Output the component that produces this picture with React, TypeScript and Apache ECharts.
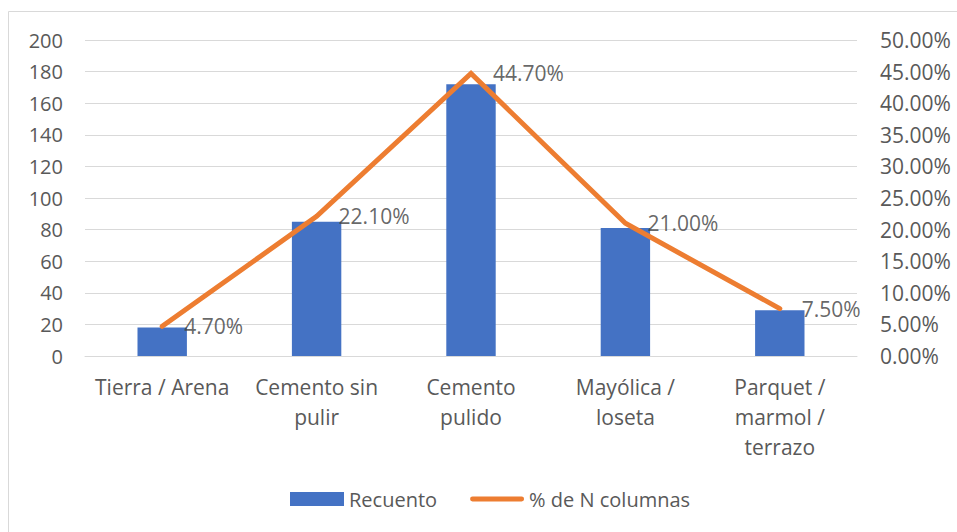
import React, { useEffect, useRef } from "react";
import * as echarts from "echarts";

const categories = [
  "Tierra / Arena",
  "Cemento sin\npulir",
  "Cemento\npulido",
  "Mayólica /\nloseta",
  "Parquet /\nmarmol /\nterrazo",
];
const recuento = [18, 85, 172, 81, 29];
const porcentaje = [4.7, 22.1, 44.7, 21.0, 7.5];
const countTicks = { min: 0, max: 200, interval: 20 };
const pctTicks = { min: 0, max: 50, interval: 5 };

const FONT = "'Open Sans', 'Liberation Sans', sans-serif";
const AXIS_COLOR = "#595959";
const GRID_COLOR = "#d9d9d9";
const FS = 21;
const LINE_ICON = "path://M2.5,0 L53.5,0 A2.5,2.5 0 0 1 53.5,5 L2.5,5 A2.5,2.5 0 0 1 2.5,0 Z";

export default function App() {
  const ref = useRef<HTMLDivElement>(null);

  useEffect(() => {
    if (!ref.current) return;
    const chart = echarts.init(ref.current, undefined, { renderer: "svg" });
    const pct = (v: number) => v.toFixed(2) + "%";
    chart.setOption({
      animation: false,
      backgroundColor: "#ffffff",
      textStyle: { fontFamily: FONT },
      graphic: [
        {
          type: "rect",
          shape: { x: 8.5, y: 11.5, width: 1000, height: 600 },
          style: { fill: "none", stroke: GRID_COLOR, lineWidth: 1 },
          silent: true,
          z: -1,
        },
      ],
      grid: { left: 85, right: 100, top: 40, bottom: 176, containLabel: false },
      legend: {
        left: 285,
        top: 484,
        itemWidth: 54,
        itemHeight: 14,
        itemGap: 33,
        textStyle: { color: AXIS_COLOR, fontSize: 20, fontFamily: FONT },
        data: [
          { name: "Recuento", icon: "rect" },
          { name: "% de N columnas", icon: LINE_ICON },
        ],
      },
      xAxis: {
        type: "category",
        data: categories,
        axisLine: { show: true, lineStyle: { color: GRID_COLOR, width: 1 } },
        axisTick: { show: false },
        axisLabel: {
          color: AXIS_COLOR,
          fontSize: FS,
          fontFamily: FONT,
          lineHeight: 30,
          margin: 16,
          interval: 0,
        },
      },
      yAxis: [
        {
          type: "value",
          min: countTicks.min,
          max: countTicks.max,
          interval: countTicks.interval,
          axisLine: { show: false },
          axisTick: { show: false },
          splitLine: { lineStyle: { color: GRID_COLOR, width: 1 } },
          axisLabel: { color: AXIS_COLOR, fontSize: 20, fontFamily: FONT, margin: 22 },
        },
        {
          type: "value",
          min: pctTicks.min,
          max: pctTicks.max,
          interval: pctTicks.interval,
          axisLine: { show: false },
          axisTick: { show: false },
          splitLine: { show: false },
          axisLabel: {
            color: AXIS_COLOR,
            fontSize: FS,
            fontFamily: FONT,
            margin: 23,
            formatter: (v: number) => pct(v),
          },
        },
      ],
      series: [
        {
          name: "Recuento",
          type: "bar",
          data: recuento,
          barWidth: "32%",
          itemStyle: { color: "#4472C4" },
          yAxisIndex: 0,
        },
        {
          name: "% de N columnas",
          type: "line",
          data: porcentaje,
          yAxisIndex: 1,
          symbol: "none",
          lineStyle: { color: "#ED7D31", width: 5, cap: "round", join: "miter" },
          itemStyle: { color: "#ED7D31" },
          z: 3,
        },
        {
          // value labels for the percentage line
          name: "etiquetas",
          type: "scatter",
          data: porcentaje,
          yAxisIndex: 1,
          symbolSize: 0,
          silent: true,
          label: {
            show: true,
            position: "right",
            distance: 22,
            color: "#404040",
            fontSize: FS,
            fontFamily: FONT,
            formatter: (p: any) => pct(Number(p.value)),
          },
          z: 4,
        },
      ],
    });
    return () => chart.dispose();
  }, []);

  return (
    <div
      ref={ref}
      style={{ position: "fixed", left: 0, top: 0, width: 957, height: 532 }}
    />
  );
}
